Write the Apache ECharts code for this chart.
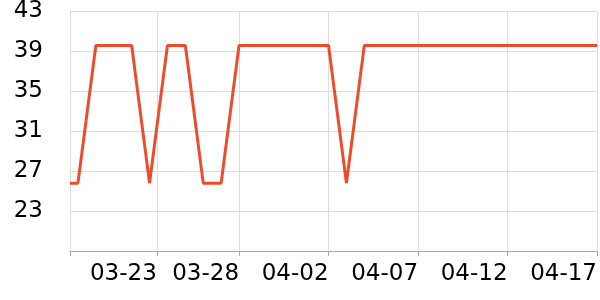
<!DOCTYPE html>
<html>
<head>
<meta charset="utf-8">
<script src="https://cdn.jsdelivr.net/npm/echarts@6/dist/echarts.min.js"></script>
<style>html,body{margin:0;padding:0;background:#fff;overflow:hidden}#c{width:600px;height:300px}</style>
</head>
<body>
<div id="c"></div>
<script>
// x positions are dates (UTC); first sample falls mid-day
const dates = ['2024-03-18T13:20Z','2024-03-19','2024-03-20','2024-03-21','2024-03-22','2024-03-23','2024-03-24','2024-03-25','2024-03-26','2024-03-27','2024-03-28','2024-03-29','2024-03-30','2024-03-31','2024-04-01','2024-04-02','2024-04-03','2024-04-04','2024-04-05','2024-04-06','2024-04-07','2024-04-08','2024-04-09','2024-04-10','2024-04-11','2024-04-12','2024-04-13','2024-04-14','2024-04-15','2024-04-16','2024-04-17'];
const values = [25.8,25.8,39.6,39.6,39.6,25.8,39.6,39.6,25.8,25.8,39.6,39.6,39.6,39.6,39.6,39.6,25.8,39.6,39.6,39.6,39.6,39.6,39.6,39.6,39.6,39.6,39.6,39.6,39.6,39.6,39.6];
const xTickDates = ['2024-03-18T13:20Z','2024-03-23T09:45Z','2024-03-28','2024-04-02','2024-04-07','2024-04-12','2024-04-17'];
const xTickLabels = ['', '03-23','03-28','04-02','04-07','04-12','04-17'];
const yMin = 19, yMax = 43, yStep = 4;

const base = Date.parse('2024-03-18T00:00Z');
const day = d => (Date.parse(d.length === 10 ? d + 'T00:00Z' : d) - base) / 86400000;
const xs = dates.map(day);
const tickXs = xTickDates.map(day);

const chart = echarts.init(document.getElementById('c'), null, {renderer:'canvas', width: 600, height: 300});
chart.setOption({
  animation: false,
  grid: {left: 70, right: 0, top: 10, bottom: 49, containLabel: false},
  xAxis: {
    type: 'value', min: xs[0], max: xs[xs.length - 1],
    axisLine: {lineStyle: {color: '#aaa'}},
    axisTick: {show: true, customValues: tickXs, lineStyle: {color: '#aaa'}},
    splitLine: {show: true, lineStyle: {color: '#ddd'}},
    axisLabel: {
      customValues: tickXs.slice(1),
      fontFamily: 'DejaVu Sans', fontSize: 23, color: '#000', align: 'right', margin: 12,
      formatter: v => { let best = 0; tickXs.forEach((t, i) => { if (Math.abs(t - v) < Math.abs(tickXs[best] - v)) best = i; }); return xTickLabels[best]; }
    }
  },
  yAxis: {
    type: 'value', min: yMin, max: yMax, interval: yStep,
    axisLine: {show: false}, axisTick: {show: false},
    splitLine: {lineStyle: {color: '#ddd'}},
    axisLabel: {fontFamily: 'DejaVu Sans', fontSize: 23, color: '#000', margin: 27, showMinLabel: false}
  },
  series: [{
    type: 'line', showSymbol: false, symbol: 'none',
    data: xs.map((x, i) => [x, values[i]]),
    lineStyle: {color: '#ee4b2b', width: 3}
  }]
});
</script>
</body>
</html>
